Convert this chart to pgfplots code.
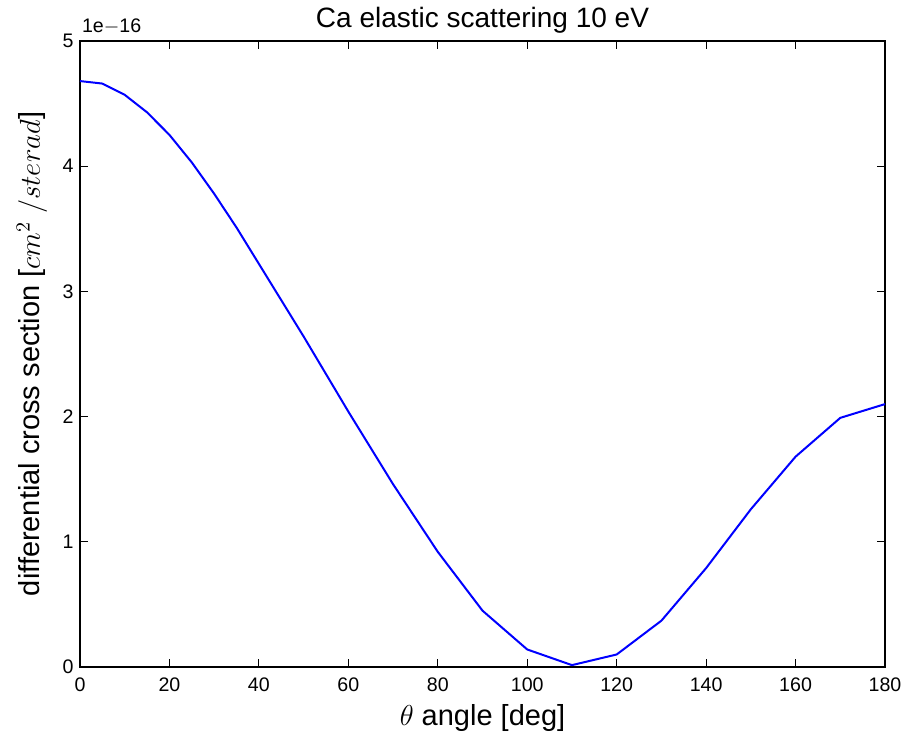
\documentclass[border=0pt]{standalone}
\usepackage{fontspec}
\setmainfont{Liberation Sans}
\usepackage{pgfplots}
\pgfplotsset{compat=1.18}
\begin{document}
\begin{tikzpicture}
\begin{axis}[
  scale only axis,
  width=402.5pt, height=313pt,
  xmin=0, xmax=180, ymin=0, ymax=5,
  xtick={0,20,...,180}, ytick={0,1,2,3,4,5},
  tick align=inside,
  major tick length=4pt,
  every tick/.style={black, line width=0.5pt},
  axis line style={black, line width=0.8pt},
  /pgf/number format/assume math mode=true,
  tick label style={font=\fontsize{9.8}{11}\selectfont},
  xticklabel style={anchor=north, inner sep=0pt, yshift=-5pt},
  yticklabel style={anchor=east, inner sep=0pt, xshift=-3pt},
  every axis title shift=0pt,
  title={Ca elastic scattering 10 eV},
  title style={font=\fontsize{14}{16}\selectfont, at={(axis description cs:0.5,1.0208)}, anchor=base, inner sep=0pt},
  xlabel={$\theta$ angle [deg]},
  xlabel style={font=\fontsize{14.5}{17}\selectfont, at={(axis description cs:0.5,-0.0927)}, anchor=base, inner sep=0pt},
  ylabel={differential cross section [$cm^2\ /sterad$]},
  ylabel style={font=\fontsize{14.5}{17}\selectfont, at={(axis description cs:-0.0497,0.5)}, anchor=base, inner sep=0pt},
  clip=false,
]
\addplot[color={rgb,255:red,0;green,0;blue,255}, line width=1pt] coordinates {
(0,4.68) (5,4.66) (10,4.57) (15,4.43) (20,4.25) (25,4.03) (30,3.78) (35,3.51) (40,3.22)
(50,2.64) (60,2.04) (70,1.46) (80,0.92) (90,0.45) (100,0.14) (110,0.015) (120,0.10)
(130,0.37) (140,0.79) (150,1.26) (160,1.68) (170,1.99) (180,2.10)
};
\node[anchor=base west, inner sep=0pt, font=\fontsize{9.8}{11}\selectfont] at (axis description cs:0.002,1.013) {1e$-$16};
\coordinate (bl) at (axis description cs:0,0);
\coordinate (tr) at (axis description cs:1,1);
\end{axis}
\pgfresetboundingbox
\path[use as bounding box] ([xshift=-40pt,yshift=-32.5pt]bl) rectangle ([xshift=16pt,yshift=20.5pt]tr);
\end{tikzpicture}
\end{document}
